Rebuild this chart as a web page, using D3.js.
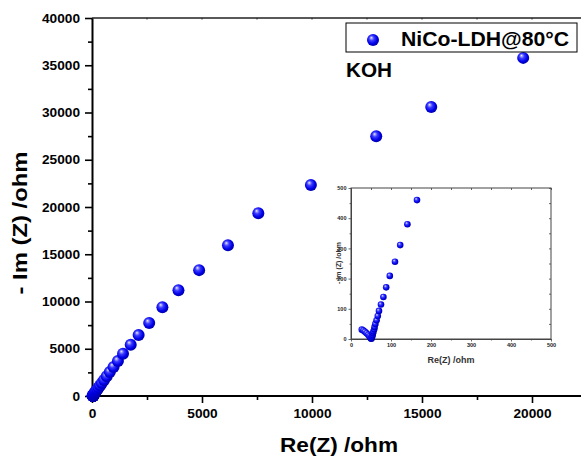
<!DOCTYPE html>
<html><head><meta charset="utf-8">
<script src="https://cdn.jsdelivr.net/npm/d3@7"></script>
<style>body{margin:0;background:#fff}svg{display:block}text{font-family:Arial,"Liberation Sans",sans-serif;font-weight:bold}</style>
</head><body><svg id="c" width="581" height="458"></svg>
<script>
// ---- data ----
const seriesName = "NiCo-LDH@80°C";
const noteText = "KOH";
const reZ = [27,31,35,39,43,46,48,50,51,52,53,54,55,56,58,59,61,64,67,70,75,81,88,97,110,123,141,165,
  200,245,300,370,450,550,670,810,980,1180,1410,1760,2120,2600,3200,3930,4870,6180,7560,9950,12920,15420,19600];
const imZ = [31,28,24,19,14,9,5,2,1,4,8,13,19,25,32,40,50,62,76,93,114,139,171,209,256,311,380,460,
  580,720,890,1110,1370,1690,2080,2530,3060,3700,4480,5420,6450,7720,9400,11200,13320,15950,19350,22330,27480,30580,35780];
const xMajor = [0,5000,10000,15000,20000];
const xMinor = [2500,7500,12500,17500];
const yMajor = [0,5000,10000,15000,20000,25000,30000,35000,40000];
const yMinor = [2500,7500,12500,17500,22500,27500,32500,37500];
const inMajor = [0,100,200,300,400,500];
const inMinor = [50,150,250,350,450];
const xTitle = "Re(Z) /ohm", yTitle = "- Im (Z) /ohm";

const svg = d3.select("#c");
const defs = svg.append("defs");
const g = defs.append("radialGradient").attr("id","ball").attr("cx","0.45").attr("cy","0.45").attr("r","0.6").attr("fx","0.35").attr("fy","0.3");
[[0,"#f4f4ff"],[0.12,"#a8a8ff"],[0.35,"#3a3aff"],[0.7,"#0000e8"],[1,"#00009a"]].forEach(s=>g.append("stop").attr("offset",s[0]).attr("stop-color",s[1]));

const x = d3.scaleLinear().domain([0,22300]).range([92,582.6]);
const y = d3.scaleLinear().domain([0,40000]).range([396,18]);
const pts = reZ.map((r,i)=>({r, m: imZ[i]}));

function fitText(sel, perChar){ sel.each(function(){ const t=d3.select(this); const s=t.text(); t.attr("textLength", s.length*perChar).attr("lengthAdjust","spacingAndGlyphs"); }); }

// top border
svg.append("line").attr("x1",92).attr("x2",581).attr("y1",18).attr("y2",18).attr("stroke","#222").attr("stroke-width",1.6);
svg.append("g").selectAll("line").data(xMajor.concat(xMinor)).join("line")
  .attr("x1",d=>x(d)).attr("x2",d=>x(d)).attr("y1",18).attr("y2",19.5).attr("stroke","#222").attr("stroke-width",1);

// axes
const ax = svg.append("g").attr("transform","translate(0,396)");
ax.call(d3.axisBottom(x).tickValues(xMajor).tickSize(7).tickPadding(6).tickSizeOuter(0).tickFormat(d3.format("d")));
ax.append("g").call(d3.axisBottom(x).tickValues(xMinor).tickSize(4).tickFormat("").tickSizeOuter(0)).select(".domain").remove();
ax.select(".domain").attr("stroke-width",2).attr("d","M92,0H581");
ax.selectAll("line").attr("stroke-width",1.6);
ax.selectAll("text").attr("font-size",13).attr("fill","#000").call(fitText,7.6);

const ay = svg.append("g").attr("transform","translate(92,0)");
ay.call(d3.axisLeft(y).tickValues(yMajor).tickSize(7).tickPadding(5).tickSizeOuter(0).tickFormat(d3.format("d")));
ay.append("g").call(d3.axisLeft(y).tickValues(yMinor).tickSize(4).tickFormat("").tickSizeOuter(0)).select(".domain").remove();
ay.select(".domain").attr("stroke-width",2);
ay.selectAll("line").attr("stroke-width",1.6);
ay.selectAll("text").attr("font-size",13).attr("fill","#000").call(fitText,7.6);

// titles
svg.append("text").attr("x",339).attr("y",452).attr("text-anchor","middle").attr("font-size",21).text(xTitle)
  .attr("textLength",118).attr("lengthAdjust","spacingAndGlyphs");
svg.append("text").attr("transform","translate(27,223) rotate(-90)").attr("text-anchor","middle").attr("font-size",21).text(yTitle)
  .attr("textLength",143).attr("lengthAdjust","spacingAndGlyphs");

// main points
svg.append("g").selectAll("circle").data(pts).join("circle")
  .attr("cx",d=>x(d.r)).attr("cy",d=>y(d.m)).attr("r",6).attr("fill","url(#ball)");

// legend
svg.append("rect").attr("x",346).attr("y",23).attr("width",231).attr("height",29).attr("fill","#fff").attr("stroke","#000").attr("stroke-width",1);
svg.append("circle").attr("cx",373).attr("cy",40).attr("r",6).attr("fill","url(#ball)");
svg.append("text").attr("x",401).attr("y",46).attr("font-size",20).text(seriesName).attr("textLength",168).attr("lengthAdjust","spacingAndGlyphs");
svg.append("text").attr("x",346).attr("y",77).attr("font-size",20).text(noteText).attr("textLength",46).attr("lengthAdjust","spacingAndGlyphs");

// inset
const xi = d3.scaleLinear().domain([0,500]).range([351,551]);
const yi = d3.scaleLinear().domain([0,500]).range([339,188]);
const ins = svg.append("g");
ins.append("rect").attr("x",351).attr("y",188).attr("width",200).attr("height",151).attr("fill","#fff").attr("stroke","#444").attr("stroke-width",1);
const ib = ins.append("g").attr("transform","translate(0,339)");
ib.call(d3.axisBottom(xi).tickValues(inMajor).tickSize(2.5).tickPadding(2).tickSizeOuter(0));
ib.append("g").call(d3.axisBottom(xi).tickValues(inMinor).tickSize(1.5).tickFormat("").tickSizeOuter(0)).select(".domain").remove();
const il = ins.append("g").attr("transform","translate(351,0)");
il.call(d3.axisLeft(yi).tickValues(inMajor).tickSize(2.5).tickPadding(2).tickSizeOuter(0));
il.append("g").call(d3.axisLeft(yi).tickValues(inMinor).tickSize(1.5).tickFormat("").tickSizeOuter(0)).select(".domain").remove();
const ir = ins.append("g").attr("transform","translate(551,0)");
ir.call(d3.axisLeft(yi).tickValues(inMajor.concat(inMinor)).tickSize(2).tickFormat("").tickSizeOuter(0)).select(".domain").remove();
const it = ins.append("g").attr("transform","translate(0,188)");
it.call(d3.axisBottom(xi).tickValues(inMajor.concat(inMinor)).tickSize(2).tickFormat("").tickSizeOuter(0)).select(".domain").remove();
ins.selectAll(".domain").attr("stroke","#444");
ins.selectAll(".tick line").attr("stroke","#444").attr("stroke-width",0.8);
ins.selectAll(".tick text").attr("font-size",5.5).attr("fill","#222");
ins.append("text").attr("x",451).attr("y",363).attr("text-anchor","middle").attr("font-size",9).attr("fill","#333").text(xTitle);
ins.append("text").attr("transform","translate(341,263) rotate(-90)").attr("text-anchor","middle").attr("font-size",7).attr("fill","#333").text(yTitle);
ins.append("g").selectAll("circle").data(pts.filter(d=>d.r<=500&&d.m<=500)).join("circle")
  .attr("cx",d=>xi(d.r)).attr("cy",d=>yi(d.m)).attr("r",3.3).attr("fill","url(#ball)");
</script></body></html>
